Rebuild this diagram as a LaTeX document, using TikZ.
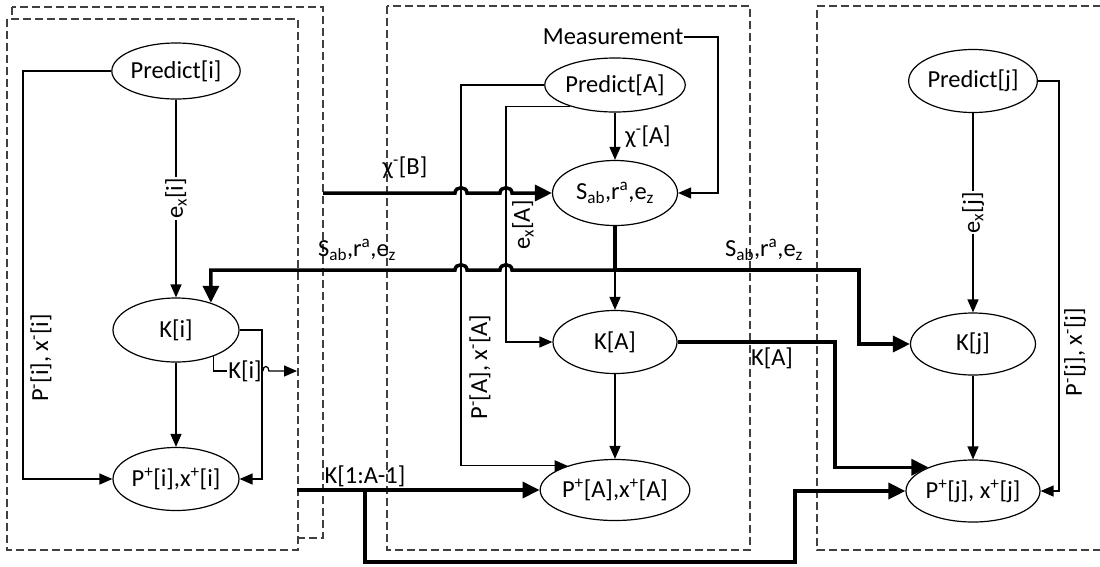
\documentclass[tikz,border=0pt]{standalone}
\usepackage{fontspec}
\setmainfont{Carlito}
\usetikzlibrary{shapes.geometric,arrows.meta,calc}
\begin{document}
\begin{tikzpicture}[x=1pt,y=-1pt,
  every node/.style={font=\fontsize{24.5}{28}\selectfont},
  ell/.style={ellipse,draw,line width=1.2pt,fill=white,minimum width=126pt,minimum height=62pt,inner sep=0pt},
  lbl/.style={inner sep=1pt},
  ln/.style={line width=1.3pt},
  arr/.style={ln,-{Triangle[length=13pt,width=11pt]}},
  tk/.style={line width=3.5pt},
  tarr/.style={tk,-{Triangle[length=17pt,width=16pt]}},
  dbox/.style={draw=black!75,line width=1.1pt,dash pattern=on 8pt off 4pt}]
\fill[white] (0,0) rectangle (1100,566);
\useasboundingbox (0,0) rectangle (1100,566);
% dashed boxes
\draw[dbox] (12,7) rectangle (323,538);
\draw[dbox,fill=white] (7,19) rectangle (298,550);
\draw[dbox] (387,6) rectangle (750,550);
\draw[dbox] (1101,6) -- (817,6) -- (817,550) -- (1101,550);
% nodes
\node[ell,minimum height=56pt] (Pri) at (176,71) {Predict[i]};
\node[ell,minimum height=64pt] (Ki) at (176,330) {K[i]};
\node[ell,minimum height=63pt] (Ppi) at (176,479) {P\textsuperscript{+}[i],x\textsuperscript{+}[i]};
\node[ell,minimum width=125pt,minimum height=54pt] (PrA) at (615,85) {Predict[A]};
\node[ell,minimum width=125pt,minimum height=65pt] (S) at (615,193) {S\textsubscript{ab},r\textsuperscript{a},e\textsubscript{z}};
\node[ell,minimum width=124pt,minimum height=63pt] (KA) at (615,342) {K[A]};
\node[ell,minimum width=138pt,minimum height=61pt] (PpA) at (615,490) {P\textsuperscript{+}[A],x\textsuperscript{+}[A]};
\node[ell,minimum width=125pt,minimum height=63pt] (Prj) at (973,81) {Predict[j]};
\node[ell,minimum width=125pt,minimum height=62pt] (Kj) at (973,344) {K[j]};
\node[ell,minimum width=125pt,minimum height=62pt] (Ppj) at (973,491) {P\textsuperscript{+}[j], x\textsuperscript{+}[j]};
\node[lbl] (meas) at (613,37) {Measurement};
% helper coordinates
\coordinate (cL) at (23,0);
\coordinate (cKi) at (262,0);
\coordinate (kiEnd) at (297,371);
\coordinate (J) at (615,270);
\coordinate (cR) at (859,0);
\coordinate (Bin) at (323,193);
\coordinate (cPA) at (461,0);
\coordinate (cEA) at (506,0);
\coordinate (cM) at (718,0);
\coordinate (cKA) at (835,0);
\coordinate (Kin) at (297,490);
\coordinate (brk) at (365,490);
\coordinate (bot) at (365,562);
\coordinate (cB) at (795,0);
\coordinate (cPj) at (1059,0);
% left panel
\draw[arr] (Pri.west) -- (Pri.west -| cL) |- (Ppi.west);
\node[lbl,rotate=90] at (41,358) {P\textsuperscript{-}[i], x\textsuperscript{-}[i]};
\draw[arr] (Pri) -- node[lbl,rotate=90,fill=white] {e\textsubscript{x}[i]} (Ki);
\draw[arr] (Ki) -- (Ppi);
\draw[arr] (Ki.east) -- (Ki.east -| cKi) |- (Ppi.east);
\node[lbl] (kilab) at (245,371) {K[i]};
\draw[ln] (Ki.-35) |- (kilab.west);
\draw[arr] (kilab.east) .. controls ($(kilab.east)+(0,-6)$) and ($(kilab.east)+(6,-6)$) .. ($(kilab.east)+(6,0)$) -- (kiEnd);
% thick S -> K[i], K[j]
\draw[tk] (S.south) -- (J);
\draw[tarr] (J) -- (512,270) .. controls (512,263) and (500,263) .. (500,270) -- (467,270) .. controls (467,263) and (455,263) .. (455,270) -- (Ki.38.5 |- J) -- (Ki.38.5);
\draw[tarr] (J) -- (J -| cR) |- (Kj.west);
\draw[arr] (J) -- (KA);
\node[lbl] at (357,250) {S\textsubscript{ab},r\textsuperscript{a},e\textsubscript{z}};
\node[lbl] at (764,250) {S\textsubscript{ab},r\textsuperscript{a},e\textsubscript{z}};
% chi B
\draw[tarr] (Bin) -- (455,193) .. controls (455,186) and (467,186) .. (467,193) -- (500,193) .. controls (500,186) and (512,186) .. (512,193) -- (S.west);
\node[lbl] at (405,168) {χ\textsuperscript{-}[B]};
% middle panel
\draw[arr] (PrA.west) -- (PrA.west -| cPA) |- (PpA.153.4);
\node[lbl,rotate=90] at (480,367) {P\textsuperscript{-}[A], x\textsuperscript{-}[A]};
\draw[arr] (PrA.-155) -- (PrA.-155 -| cEA) |- (KA.west);
\node[lbl,rotate=90] at (523,225) {e\textsubscript{x}[A]};
\draw[arr] (PrA) -- (S);
\node[lbl] at (648,137) {χ\textsuperscript{-}[A]};
\draw[arr] (meas.east) -- (meas.east -| cM) |- (S.east);
\draw[arr] (KA) -- (PpA);
\draw[tarr] (KA.east) -- (KA.east -| cKA) |- (Ppj.152);
\node[lbl] at (772,358) {K[A]};
\draw[tarr] (Kin) -- (PpA.west);
\node[lbl] at (365,476) {K[1:A-1]};
\draw[tarr] (brk) -- (bot) -- (bot -| cB) |- (Ppj.west);
% right panel
\draw[arr] (Prj) -- node[lbl,rotate=90,fill=white] {e\textsubscript{x}[j]} (Kj);
\draw[arr] (Kj) -- (Ppj);
\draw[arr] (Prj.east) -- (Prj.east -| cPj) |- (Ppj.east);
\node[lbl,rotate=90] at (1075,352) {P\textsuperscript{-}[j], x\textsuperscript{-}[j]};
\end{tikzpicture}
\end{document}
